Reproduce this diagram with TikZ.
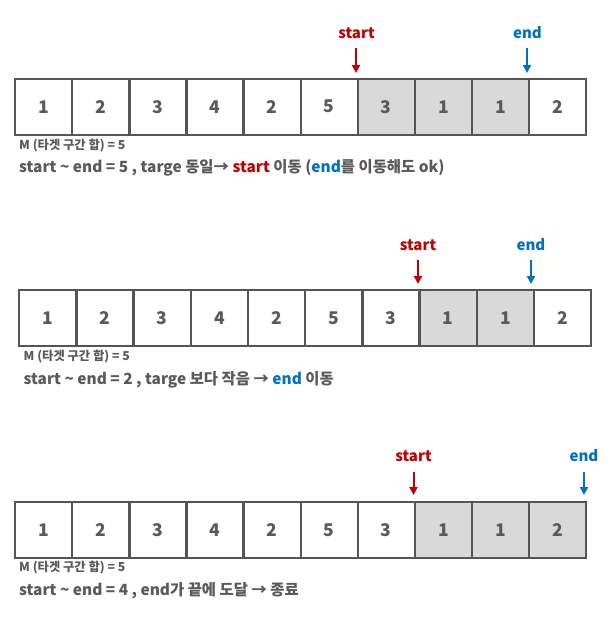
\documentclass[tikz,border=0pt]{standalone}
\usepackage{fontspec}
\setmainfont{Noto Sans CJK KR}
\usetikzlibrary{arrows.meta}
\definecolor{bordergray}{HTML}{555555}
\definecolor{txtgray}{HTML}{595959}
\definecolor{shade}{HTML}{D9D9D9}
\definecolor{myred}{HTML}{C00000}
\definecolor{myblue}{HTML}{0070C0}
\tikzset{
  cell/.style={draw=bordergray, line width=2.3pt, minimum width=57.1pt, minimum height=56pt,
    inner sep=0pt, anchor=north west, text=txtgray, font=\fontsize{17.5}{17.5}\selectfont\bfseries},
  shaded/.style={fill=shade},
  plain/.style={fill=white},
  ptrlabel/.style={font=\fontsize{15}{15}\selectfont\bfseries, inner sep=0pt},
  ptrarrow/.style={line width=2pt, -{Triangle[length=8pt,width=8pt]}},
  mline/.style={font=\fontsize{12.3}{12.3}\selectfont\bfseries, text=txtgray, anchor=west, inner sep=0pt},
  descline/.style={font=\fontsize{15.4}{15.4}\selectfont\bfseries, text=txtgray, anchor=west, inner sep=0pt},
}
\begin{document}
\begin{tikzpicture}[x=1pt,y=-1pt]
\useasboundingbox (0,0) rectangle (610,629);
% ---------- Row 1 ----------
\foreach \v [count=\i from 0] in {1,2,3,4,2,5,3,1,1,2}{
  \ifnum\i>5 \ifnum\i<9 \def\sty{shaded}\else\def\sty{plain}\fi\else\def\sty{plain}\fi
  \node[cell,\sty] (a\i) at ({14+57.1*\i},77.5) {\v};
}
\node[ptrlabel,text=myred] (as) at (356.5,33) {start};
\node[ptrlabel,text=myblue] (ae) at (527.5,33) {end};
\coordinate (as1) at (356,48); \coordinate (as2) at (356,73);
\coordinate (ae1) at (527,48); \coordinate (ae2) at (527,73);
\draw[ptrarrow,myred] (as1) -- (as2);
\draw[ptrarrow,myblue] (ae1) -- (ae2);
\node[mline] (am) at (19,146) {M (타겟 구간 합) = 5};
\node[descline] (ad) at (19,168) {start \textasciitilde{} end = 5 , targe 동일→ \textcolor{myred}{start} 이동 (\textcolor{myblue}{end}를 이동해도 ok)};
% ---------- Row 2 ----------
\foreach \v [count=\i from 0] in {1,2,3,4,2,5,3,1,1,2}{
  \ifnum\i>6 \ifnum\i<9 \def\sty{shaded}\else\def\sty{plain}\fi\else\def\sty{plain}\fi
  \node[cell,\sty,minimum width=57.2pt] (b\i) at ({18+57.2*\i},289) {\v};
}
\node[ptrlabel,text=myred] (bs) at (418,245) {start};
\node[ptrlabel,text=myblue] (be) at (531,245) {end};
\coordinate (bs1) at (418,260); \coordinate (bs2) at (418,284);
\coordinate (be1) at (531,260); \coordinate (be2) at (531,284);
\draw[ptrarrow,myred] (bs1) -- (bs2);
\draw[ptrarrow,myblue] (be1) -- (be2);
\node[mline] (bm) at (23.5,357) {M (타겟 구간 합) = 5};
\node[descline] (bd) at (23.5,380) {start \textasciitilde{} end = 2 , targe 보다 작음 → \textcolor{myblue}{end} 이동};
% ---------- Row 3 ----------
\foreach \v [count=\i from 0] in {1,2,3,4,2,5,3,1,1,2}{
  \ifnum\i>6 \def\sty{shaded}\else\def\sty{plain}\fi
  \node[cell,\sty] (c\i) at ({14+57.1*\i},501) {\v};
}
\node[ptrlabel,text=myred] (cs) at (413.5,456) {start};
\node[ptrlabel,text=myblue] (ce) at (584,456) {end};
\coordinate (cs1) at (413.5,472); \coordinate (cs2) at (413.5,495);
\coordinate (ce1) at (584,472); \coordinate (ce2) at (584,495);
\draw[ptrarrow,myred] (cs1) -- (cs2);
\draw[ptrarrow,myblue] (ce1) -- (ce2);
\node[mline] (cm) at (19,568) {M (타겟 구간 합) = 5};
\node[descline] (cd) at (19,591) {start \textasciitilde{} end = 4 , end가 끝에 도달 → 종료};
\end{tikzpicture}
\end{document}
